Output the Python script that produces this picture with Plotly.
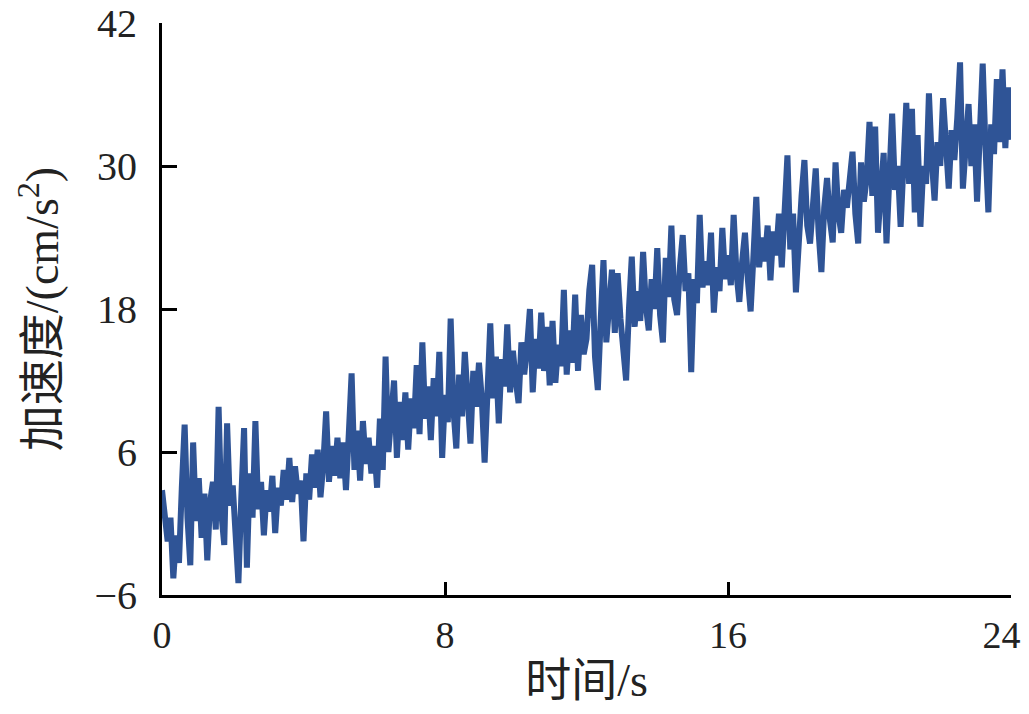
import plotly.graph_objects as go

sample_interval = 0.08  # s

accel_0_6 = [2.8, 1.0, -1.5, 0.5, -4.6, -1.0, -3.3, 3.0, 8.3, 0.5,
             -3.5, 6.8, 0.2, 3.8, -1.2, 2.5, -3.1, 1.8, 3.5, -0.5,
             9.8, 0.8, -1.8, 8.4, 1.5, 3.2, -0.5, -5.0, 2.0, 8.0,
             -3.7, 4.2, 0.5, 8.6, 1.2, 3.5, -1.0, 2.8, 1.0, 4.0,
             -0.8, 3.0, 1.5, 4.5, 2.0, 5.5, 1.8, 4.8, 2.5, 3.6,
             -1.5, 4.2, 2.0, 5.8, 3.0, 6.2, 2.2, 5.0, 9.4, 3.5,
             6.5, 4.0, 7.2, 3.8, 6.8, 2.8, 7.5, 12.6, 4.5, 7.8,
             3.6, 8.6, 5.0, 7.2, 4.2]

accel_6_12 = [6.5, 3.0, 8.8, 4.5, 14.0, 6.0, 9.5, 12.0, 5.5, 10.2,
              7.0, 11.0, 6.2, 10.5, 8.0, 13.3, 7.5, 15.2, 8.8, 11.5,
              7.0, 12.2, 9.0, 14.4, 5.5, 10.8, 8.5, 17.2, 9.5, 6.3,
              12.5, 9.0, 14.4, 10.0, 6.7, 12.8, 9.8, 13.5, 10.5, 5.1,
              13.0, 16.8, 10.5, 14.0, 8.4, 13.8, 11.5, 16.7, 11.0, 14.5,
              12.0, 10.1, 15.2, 12.5, 14.8, 18.0, 11.0, 15.5, 13.0, 17.7,
              12.8, 16.5, 11.6, 17.0, 11.8, 15.0, 13.2, 19.6, 12.5, 16.2,
              13.5, 19.2, 12.8, 17.5, 14.2]

accel_12_18 = [15.5, 19.6, 21.7, 14.0, 11.2, 17.0, 22.1, 15.2, 18.5, 21.3,
               16.0, 21.0, 17.2, 14.5, 12.0, 18.0, 22.4, 16.5, 19.5, 17.0,
               22.8, 18.2, 16.2, 20.5, 18.0, 23.1, 17.5, 15.2, 22.3, 19.0,
               25.0, 18.8, 17.5, 21.5, 24.2, 19.5, 21.0, 12.7, 20.5, 18.5,
               25.9, 19.8, 22.0, 20.0, 24.4, 17.7, 21.5, 19.5, 24.8, 20.5,
               22.5, 20.0, 25.9, 21.0, 18.6, 22.0, 24.4, 20.5, 17.8, 22.5,
               27.4, 21.5, 24.0, 22.0, 25.0, 20.4, 24.5, 22.5, 26.0, 21.5,
               25.5, 30.9, 23.0, 26.0, 19.4]

accel_18_24 = [24.5, 27.5, 30.5, 25.0, 23.5, 27.0, 29.8, 24.5, 21.1, 26.5,
               29.0, 25.5, 23.6, 30.3, 26.0, 24.4, 28.0, 26.5, 28.5, 31.2,
               26.0, 23.5, 30.3, 27.0, 29.0, 33.7, 27.5, 33.3, 24.4, 28.5,
               31.1, 23.5, 29.0, 34.4, 28.0, 30.0, 24.9, 30.5, 35.3, 28.5,
               34.8, 26.1, 32.6, 24.9, 30.0, 28.5, 36.1, 30.5, 27.1, 32.0,
               30.0, 35.7, 31.0, 28.1, 33.0, 30.5, 34.0, 38.7, 28.1, 32.5,
               35.2, 30.0, 33.5, 27.0, 33.0, 38.6, 31.5, 26.1, 33.5, 31.0,
               37.3, 32.0, 38.1, 31.5, 36.6, 32.2]

x_ticks = [0, 8, 16, 24]
x_tick_text = ["0", "8", "16", "24\u2002"]
y_ticks = [-6, 6, 18, 30, 42]
y_tick_text = ["\u22126", "6", "18", "30", "42"]
x_title = "时间/s"
y_title = "加速度/(cm/s<sup>2</sup>)"

acceleration = accel_0_6 + accel_6_12 + accel_12_18 + accel_18_24
time = [round(i * sample_interval, 4) for i in range(len(acceleration))]

font_family = "Liberation Serif, Noto Sans CJK SC, serif"

fig = go.Figure()
fig.add_trace(go.Scatter(
    x=time, y=acceleration, mode="lines",
    line=dict(color="#2f5496", width=6),
    showlegend=False,
))

axis_common = dict(
    showline=True, linecolor="black", linewidth=3,
    ticks="inside", tickcolor="black", tickwidth=3,
    showgrid=False, zeroline=False, mirror=False,
    automargin=False, ticklabeloverflow="allow",
)

# page body has an 8px margin, so the figure is sized/offset to compensate
fig.update_layout(
    width=1021, height=706,
    margin=dict(l=154, r=18, t=15, b=119),
    paper_bgcolor="white", plot_bgcolor="white",
    font=dict(family=font_family, color="#222"),
    xaxis=dict(
        range=[0, 24], tickvals=x_ticks, ticktext=x_tick_text, ticklen=13,
        ticklabelstandoff=4,
        tickfont=dict(family=font_family, size=38, color="#222"),
        title=dict(text=x_title, font=dict(family=font_family, size=46), standoff=10),
        **axis_common,
    ),
    yaxis=dict(
        range=[-6, 42], tickvals=y_ticks, ticklen=15,
        ticktext=y_tick_text,
        ticklabelstandoff=14,
        tickfont=dict(family=font_family, size=40, color="#222"),
        title=dict(text=y_title, font=dict(family=font_family, size=46), standoff=22),
        **axis_common,
    ),
)

fig.write_html("out.html")
